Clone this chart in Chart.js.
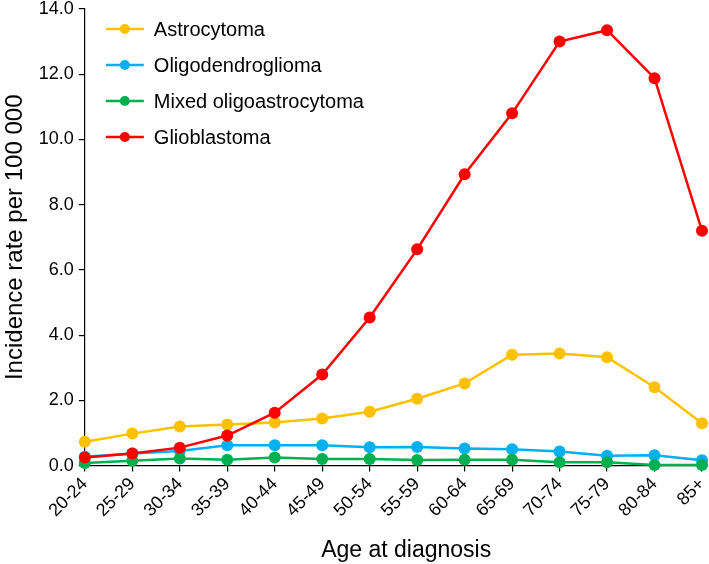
<!DOCTYPE html>
<html>
<head>
<meta charset="utf-8">
<script src="https://cdn.jsdelivr.net/npm/chart.js@4.4.1/dist/chart.umd.min.js"></script>
<style>
  html, body { margin: 0; padding: 0; background: #fff; }
  #wrap { width: 709px; height: 564px; position: relative; }
</style>
</head>
<body>
<div id="wrap"><canvas id="chart"></canvas></div>
<script>
// age groups on the x axis
const ageGroups = ['20-24', '25-29', '30-34', '35-39', '40-44', '45-49', '50-54',
                   '55-59', '60-64', '65-69', '70-74', '75-79', '80-84', '85+'];

// incidence rate per 100 000
const astrocytoma = [0.73, 0.98, 1.20, 1.26, 1.32, 1.44, 1.65, 2.05, 2.52, 3.40, 3.44, 3.32, 2.40, 1.30];
const oligodendroglioma = [0.27, 0.37, 0.45, 0.62, 0.62, 0.62, 0.56, 0.57, 0.52, 0.50, 0.43, 0.30, 0.32, 0.16];
const mixedOligoastrocytoma = [0.08, 0.15, 0.22, 0.18, 0.25, 0.20, 0.20, 0.17, 0.18, 0.18, 0.10, 0.10, 0.02, 0.02];
const glioblastoma = [0.25, 0.37, 0.55, 0.92, 1.62, 2.79, 4.54, 6.63, 8.93, 10.80, 13.00, 13.35, 11.88, 7.20];

const seriesNames = ['Astrocytoma', 'Oligodendroglioma', 'Mixed oligoastrocytoma', 'Glioblastoma'];
const seriesColors = ['#FFC000', '#00B0F0', '#00B050', '#FF0000'];
const seriesData = [astrocytoma, oligodendroglioma, mixedOligoastrocytoma, glioblastoma];

const fontFamily = '"Liberation Sans", Arial, sans-serif';

// legend drawn inside the plot, top-left, as line + dot + label
const insideLegend = {
    id: 'insideLegend',
    afterDraw(chart) {
        const ctx = chart.ctx;
        const area = chart.chartArea;
        ctx.save();
        ctx.font = '20px ' + fontFamily;
        ctx.textBaseline = 'middle';
        seriesNames.forEach((name, i) => {
            const y = area.top + 20 + i * 36;
            const x0 = area.left + 21;
            ctx.strokeStyle = seriesColors[i];
            ctx.lineWidth = 2.5;
            ctx.beginPath();
            ctx.moveTo(x0, y);
            ctx.lineTo(x0 + 38, y);
            ctx.stroke();
            ctx.fillStyle = seriesColors[i];
            ctx.beginPath();
            ctx.arc(x0 + 19, y, 5, 0, Math.PI * 2);
            ctx.fill();
            ctx.fillStyle = '#000';
            ctx.fillText(name, x0 + 48, y + 1);
        });
        ctx.restore();
    }
};

const datasets = seriesNames.map((name, i) => ({
    label: name,
    data: seriesData[i],
    borderColor: seriesColors[i],
    backgroundColor: seriesColors[i],
    borderWidth: 2.5,
    pointRadius: 6,
    pointHoverRadius: 6,
    pointBorderWidth: 0,
    fill: false,
    tension: 0,
    clip: false,
    order: seriesNames.length - i
}));

new Chart(document.getElementById('chart').getContext('2d'), {
    type: 'line',
    data: { labels: ageGroups, datasets: datasets },
    plugins: [insideLegend],
    options: {
        responsive: true,
        maintainAspectRatio: false,
        animation: false,
        layout: { padding: { top: 0, right: 0, left: 1, bottom: 0 } },
        plugins: {
            legend: { display: false },
            tooltip: { enabled: false }
        },
        scales: {
            x: {
                type: 'category',
                offset: false,
                afterFit: s => { s.paddingRight = 7; },
                grid: { display: true, drawOnChartArea: false, drawTicks: true, tickLength: 6, color: '#000', lineWidth: 1.2 },
                border: { display: true, color: '#000', width: 1.2 },
                ticks: {
                    color: '#000',
                    font: { family: fontFamily, size: 18 },
                    minRotation: 45,
                    maxRotation: 45,
                    autoSkip: false,
                    padding: 2
                },
                title: {
                    display: true,
                    text: '    Age at diagnosis',
                    color: '#000',
                    font: { family: fontFamily, size: 23 },
                    padding: { top: 13, bottom: 0 }
                }
            },
            y: {
                min: 0,
                max: 14,
                afterFit: s => { s.paddingTop = 9; },
                grid: { display: true, drawOnChartArea: false, drawTicks: true, tickLength: 6, color: '#000', lineWidth: 1.2 },
                border: { display: true, color: '#000', width: 1.2 },
                ticks: {
                    stepSize: 2,
                    color: '#000',
                    font: { family: fontFamily, size: 18 },
                    padding: 5,
                    callback: v => Number(v).toFixed(1)
                },
                title: {
                    display: true,
                    text: 'Incidence rate per 100 000',
                    color: '#000',
                    font: { family: fontFamily, size: 24 },
                    padding: { top: 0, bottom: 4 }
                }
            }
        }
    }
});
</script>
</body>
</html>
